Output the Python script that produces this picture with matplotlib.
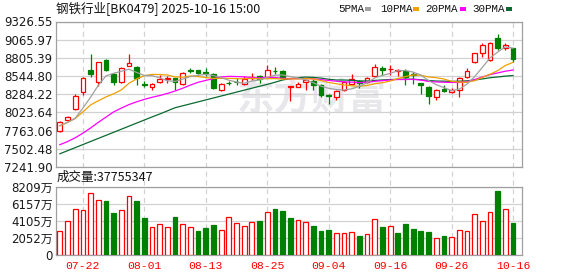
import numpy as np
import matplotlib

matplotlib.use('Agg')
import matplotlib.pyplot as plt
from matplotlib.patches import Rectangle

# Daily data, 2025-07-17 .. 2025-10-16
dates = ['07-17', '07-18', '07-21', '07-22', '07-23', '07-24', '07-25', '07-28', '07-29', '07-30',
         '07-31', '08-01', '08-04', '08-05', '08-06', '08-07', '08-08', '08-11', '08-12', '08-13',
         '08-14', '08-15', '08-18', '08-19', '08-20', '08-21', '08-22', '08-25', '08-26', '08-27',
         '08-28', '08-29', '09-01', '09-02', '09-03', '09-04', '09-05', '09-08', '09-09', '09-10',
         '09-11', '09-12', '09-15', '09-16', '09-17', '09-18', '09-19', '09-22', '09-23', '09-24',
         '09-25', '09-26', '09-29', '09-30', '10-09', '10-10', '10-13', '10-14', '10-15', '10-16']

opens = [7756, 7914, 8072, 8311, 8636, 8454, 8779, 8574, 8454, 8688,
         8679, 8425, 8387, 8454, 8502, 8511, 8425, 8631, 8631, 8607,
         8578, 8344, 8449, 8464, 8430, 8511, 8550, 8531, 8621, 8621,
         8392, 8382, 8459, 8473, 8416, 8268, 8239, 8344, 8435, 8478,
         8464, 8545, 8664, 8641, 8617, 8617, 8574, 8440, 8392, 8239,
         8358, 8311, 8344, 8526, 8741, 8870, 8774, 9095, 8951, 8946]
highs = [7900, 7971, 8291, 8526, 8865, 8750, 8794, 8583, 8679, 8865,
         8688, 8473, 8449, 8559, 8550, 8521, 8607, 8655, 8636, 8660,
         8583, 8449, 8473, 8511, 8545, 8593, 8559, 8698, 8674, 8631,
         8405, 8464, 8502, 8497, 8435, 8291, 8344, 8469, 8569, 8487,
         8531, 8712, 8693, 8698, 8650, 8650, 8607, 8445, 8401, 8358,
         8416, 8378, 8531, 8664, 8880, 9023, 9032, 9147, 9023, 8951]
lows = [7737, 7900, 8062, 8272, 8526, 8406, 8612, 8416, 8444, 8683,
        8416, 8382, 8339, 8449, 8449, 8344, 8416, 8593, 8569, 8550,
        8363, 8334, 8416, 8416, 8421, 8487, 8440, 8521, 8569, 8502,
        8186, 8382, 8339, 8339, 8239, 8138, 8196, 8334, 8425, 8368,
        8440, 8531, 8559, 8559, 8545, 8411, 8430, 8282, 8138, 8196,
        8315, 8301, 8239, 8521, 8736, 8813, 8765, 8913, 8913, 8750]
closes = [7890, 7952, 8263, 8516, 8578, 8746, 8626, 8454, 8660, 8731,
          8511, 8416, 8435, 8502, 8521, 8464, 8583, 8621, 8583, 8593,
          8373, 8435, 8440, 8454, 8502, 8535, 8507, 8631, 8612, 8521,
          8402, 8425, 8483, 8416, 8268, 8253, 8330, 8454, 8502, 8445,
          8516, 8674, 8626, 8650, 8636, 8535, 8559, 8416, 8253, 8344,
          8325, 8344, 8516, 8617, 8875, 8990, 9018, 8942, 8985, 8784]

ma5 = [7835, 7880, 7940, 8085, 8240, 8411, 8546, 8584, 8613, 8643,
       8596, 8554, 8551, 8519, 8477, 8468, 8501, 8538, 8554, 8569,
       8551, 8521, 8485, 8459, 8441, 8473, 8488, 8526, 8557, 8561,
       8535, 8518, 8489, 8449, 8399, 8369, 8350, 8344, 8361, 8397,
       8449, 8518, 8553, 8582, 8620, 8624, 8601, 8559, 8480, 8421,
       8379, 8336, 8356, 8429, 8535, 8668, 8803, 8888, 8962, 8944]
ma10 = [7830, 7880, 7935, 8030, 8130, 8190, 8245, 8290, 8345, 8441,
        8504, 8550, 8568, 8566, 8560, 8532, 8528, 8545, 8537, 8523,
        8510, 8511, 8512, 8507, 8505, 8512, 8505, 8506, 8508, 8501,
        8504, 8503, 8508, 8503, 8480, 8452, 8434, 8417, 8405, 8398,
        8409, 8434, 8449, 8472, 8509, 8537, 8560, 8556, 8531, 8521,
        8502, 8469, 8458, 8455, 8478, 8524, 8570, 8622, 8696, 8740]
ma20 = [7560, 7605, 7660, 7725, 7800, 7880, 7955, 8030, 8085, 8135,
        8175, 8210, 8240, 8265, 8295, 8330, 8370, 8415, 8455, 8482,
        8507, 8531, 8540, 8537, 8533, 8522, 8517, 8526, 8523, 8512,
        8507, 8507, 8510, 8505, 8493, 8482, 8470, 8462, 8457, 8450,
        8457, 8469, 8479, 8488, 8495, 8495, 8497, 8487, 8468, 8460,
        8456, 8452, 8454, 8464, 8494, 8531, 8565, 8589, 8614, 8631]
ma30 = [7430, 7474, 7518, 7562, 7606, 7650, 7694, 7738, 7782, 7826,
        7870, 7914, 7958, 8000, 8045, 8090, 8118, 8146, 8174, 8202,
        8230, 8258, 8286, 8314, 8342, 8370, 8398, 8425, 8455, 8488,
        8506, 8521, 8529, 8525, 8515, 8498, 8488, 8488, 8483, 8474,
        8474, 8482, 8489, 8494, 8498, 8500, 8499, 8492, 8481, 8473,
        8471, 8468, 8471, 8476, 8488, 8503, 8520, 8531, 8543, 8552]

# volume in 万
volumes = [2831, 4004, 5459, 5338, 7400, 6551, 6470, 5015, 5338, 7037,
           6470, 4408, 3276, 3640, 3276, 4529, 3640, 3276, 2831, 3195,
           3559, 2912, 4489, 3761, 3397, 3923, 4044, 5095, 5500, 5257,
           4408, 4125, 3923, 3437, 2831, 2952, 2588, 2588, 2709, 2224,
           2467, 4246, 3316, 3437, 2588, 3680, 3073, 2831, 2709, 1941,
           2224, 2062, 2912, 2790, 4893, 4004, 5095, 7684, 5459, 3776]
vol_up = [1, 1, 1, 1, 1, 1, 0, 0, 1, 1,
          0, 0, 1, 1, 1, 0, 1, 1, 0, 0,
          0, 1, 1, 1, 1, 1, 0, 1, 0, 0,
          0, 1, 1, 0, 0, 0, 1, 1, 1, 0,
          1, 1, 0, 1, 0, 0, 0, 0, 0, 1,
          0, 1, 1, 1, 1, 1, 1, 0, 1, 0]

price_ticks = [9326.55, 9065.97, 8805.39, 8544.80, 8284.22, 8023.64, 7763.06, 7502.48, 7241.90]
vol_ticks = [0, 2052, 4105, 6157, 8209]
vol_tick_labels = ['0', '2052万', '4105万', '6157万', '8209万']
date_labels = ['07-22', '08-01', '08-13', '08-25', '09-04', '09-16', '09-26', '10-16']

title = '钢铁行业[BK0479] 2025-10-16 15:00'
vol_title = '成交量:37755347'
ma_names = ['5PMA', '10PMA', '20PMA', '30PMA']
ma_colors = ['#a0a0a0', '#f0a000', '#ff00ff', '#0a6a30']

RED = '#ff0000'
GREEN = '#008000'
SPINE = '#a0a0a0'
GRID = '#d2d2d2'

W, H = 578, 276
fig = plt.figure(figsize=(W / 100, H / 100), dpi=100)
fig.patch.set_facecolor('white')


def fx(px):
    return px / W


def fy(py):
    return 1 - py / H


x = np.arange(len(dates))
xlim = (-0.5, len(dates) + 0.17)
tick_idx = [dates.index(d) for d in date_labels]

# background axes for dashed vertical grid through both panels
bg = fig.add_axes([fx(56), fy(254.5), fx(466), (254.5 - 21.5) / H])
bg.set_xlim(xlim)
bg.axis('off')
for i in tick_idx:
    bg.axvline(i, color=GRID, lw=0.9, ls=(0, (4, 3)), zorder=0)

ax = fig.add_axes([fx(56), fy(166.9), fx(466), 145.4 / H])
ax.set_facecolor('none')
ax.set_xlim(xlim)
ax.set_ylim(price_ticks[-1], price_ticks[0])
ax.set_yticks(price_ticks)
ax.set_yticklabels(['%.2f' % v for v in price_ticks])
ax.set_xticks([])
ax.grid(axis='y', color=GRID, lw=0.9, zorder=0)
ax.tick_params(axis='y', length=0, pad=2.5, labelsize=8.5, labelcolor='#1a1a1a')
for s in ax.spines.values():
    s.set_color(SPINE)
    s.set_linewidth(0.9)

# watermark
ax.text(0.55, 0.47, '东方财富', transform=ax.transAxes, ha='center', va='center',
        fontsize=27, fontweight='bold', color='#e8e8ec', family=['Noto Sans CJK SC'], zorder=0.5)

o = np.array(opens)
c = np.array(closes)
up = c >= o
ax.vlines(x, lows, highs, colors=np.where(up, RED, GREEN), lw=0.9, zorder=2)
ax.bar(x, np.maximum(np.abs(c - o), 1), bottom=np.minimum(o, c), width=0.62,
       color=np.where(up, 'white', GREEN), edgecolor=np.where(up, RED, GREEN), lw=0.9, zorder=3)

for vals, col in zip([ma30, ma20, ma10, ma5], ma_colors[::-1]):
    ax.plot(x, vals, color=col, lw=0.9, zorder=4)

vax = fig.add_axes([fx(56), fy(254.5), fx(466), (254.5 - 186.7) / H])
vax.set_facecolor('none')
vax.set_xlim(xlim)
vax.set_ylim(0, vol_ticks[-1])
vax.set_yticks(vol_ticks)
vax.set_yticklabels(vol_tick_labels, family=['DejaVu Sans', 'Noto Sans CJK SC'])
vax.grid(axis='y', color=GRID, lw=0.9, zorder=0)
vax.tick_params(axis='y', length=0, pad=2.5, labelsize=8.5, labelcolor='#1a1a1a')
vax.set_xticks(tick_idx)
vax.set_xticklabels(date_labels, family='Liberation Mono', fontsize=8.2, color=RED)
vax.tick_params(axis='x', length=0, pad=5)
for s in vax.spines.values():
    s.set_color(SPINE)
    s.set_linewidth(0.9)
vu = np.array(vol_up) == 1
vax.bar(x, volumes, width=0.62, color=np.where(vu, 'white', GREEN),
        edgecolor=np.where(vu, RED, GREEN), lw=0.9, zorder=3)

fig.text(fx(56), fy(8), title, fontsize=9, family=['Noto Sans CJK SC'], va='center', ha='left',
         color='#111111')
fig.text(fx(57), fy(177), vol_title, fontsize=9, family=['Noto Sans CJK SC'], va='center', ha='left',
         color='#111111')

# legend
leg_x = [338, 380, 425, 472]
box_x = [365, 413, 460, 506]
for name, col, tx, bx in zip(ma_names, ma_colors, leg_x, box_x):
    fig.text(fx(tx), fy(8.5), name, fontsize=7.8, family='Liberation Mono', va='center', ha='left',
             color='#111111')
    fig.patches.append(Rectangle((fx(bx), fy(10.5)), fx(6), 3.5 / H, transform=fig.transFigure,
                                 color=col, lw=0))

fig.savefig('out.png', dpi=100)
